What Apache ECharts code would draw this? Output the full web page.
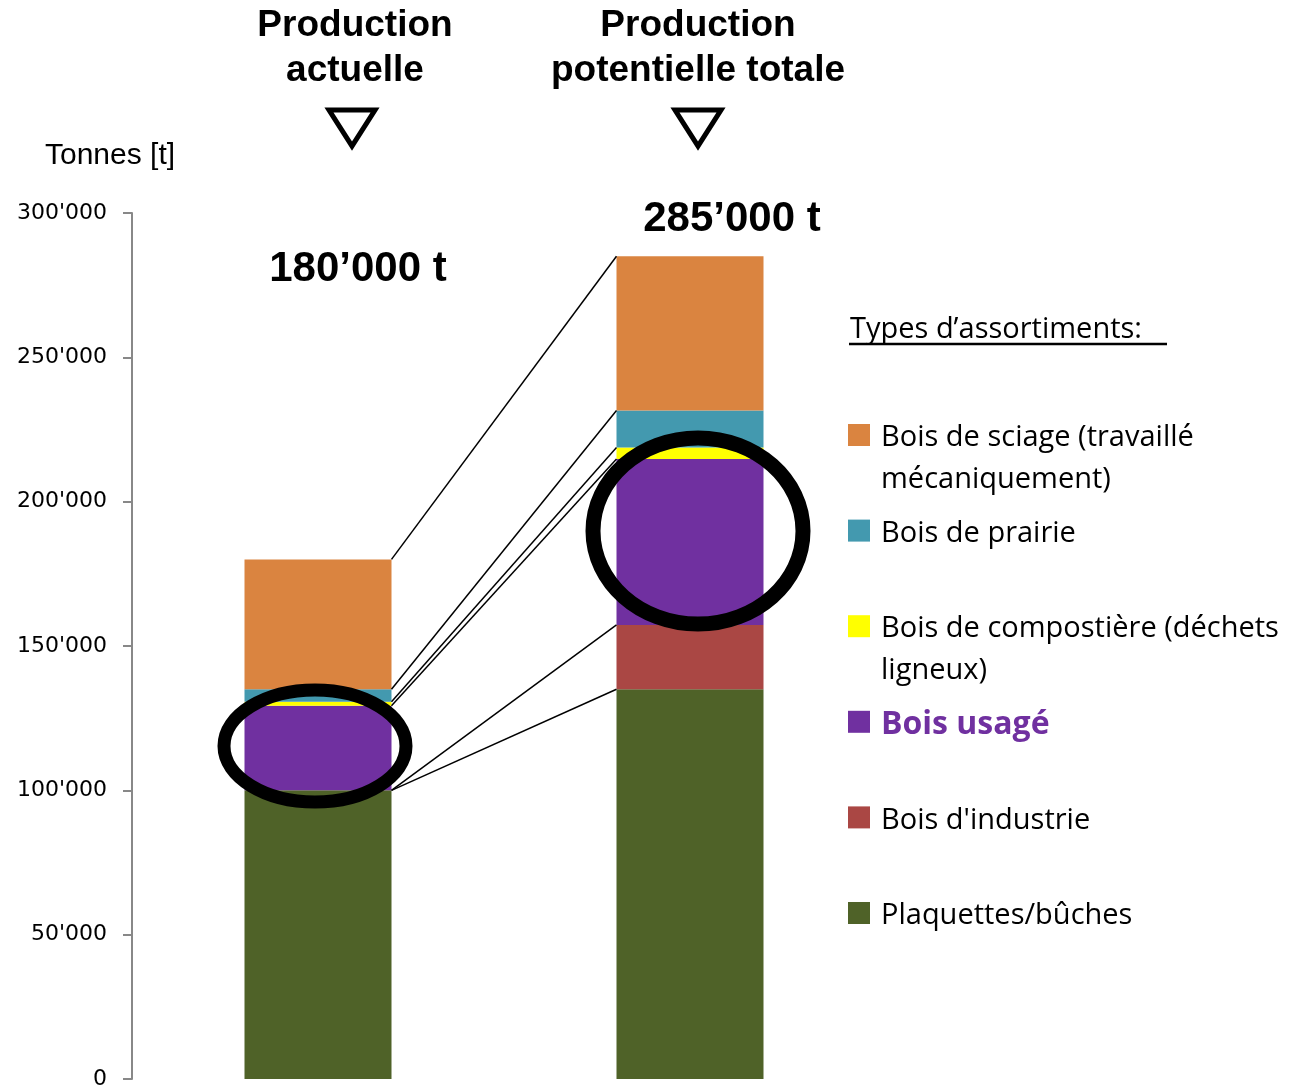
<!DOCTYPE html>
<html>
<head>
<meta charset="utf-8">
<title>Production de bois</title>
<script src="https://cdn.jsdelivr.net/npm/echarts@6.0.0/dist/echarts.min.js"></script>
</head>
<body style="margin:0;height:100%">
<div id="container" style="width:1313px;height:1088px"></div>
<script>
// donnees (tonnes), de bas en haut de la pile
var categories = ['Production actuelle', 'Production potentielle totale'];
var plaquettes = [100000, 135000];
var industrie = [0, 22300];
var usage = [29300, 57500];
var compost = [1400, 4000];
var prairie = [4300, 12800];
var sciage = [45000, 53400];
var totalLabels = ['180’000 t', '285’000 t'];

var seriesNames = ['Plaquettes/bûches', "Bois d'industrie", 'Bois usagé',
  'Bois de compostière (déchets ligneux)', 'Bois de prairie', 'Bois de sciage (travaillé mécaniquement)'];
var legendLabels = ['Plaquettes/bûches', "Bois d'industrie", 'Bois usagé',
  'Bois de compostière (déchets\nligneux)', 'Bois de prairie', 'Bois de sciage (travaillé\nmécaniquement)'];
var colors = ['#4F6228', '#AA4744', '#7030A0', '#FFFF00', '#4399AF', '#DA8440'];

var stacks = [plaquettes, industrie, usage, compost, prairie, sciage];
var barWidth = 147;

// sommes cumulees pour les traits de liaison
var connectors = [];
var cumA = 0, cumB = 0;
stacks.forEach(function (s) {
  cumA += s[0]; cumB += s[1];
  connectors.push([0, cumA, cumB]);
});

function fmt(v) {
  return String(v).replace(/\B(?=(\d{3})+(?!\d))/g, "'");
}

var dom = document.getElementById('container');
var myChart = echarts.init(dom);

var series = stacks.map(function (s, i) {
  return {
    name: seriesNames[i],
    type: 'bar',
    stack: 'total',
    barWidth: barWidth,
    itemStyle: { color: colors[i] },
    data: s
  };
});
series.push({
  type: 'custom',
  encode: { x: 0, y: [1, 2] },
  renderItem: function (params, api) {
    var a = api.coord([0, api.value(1)]);
    var b = api.coord([1, api.value(2)]);
    return {
      type: 'line',
      shape: { x1: a[0] + barWidth / 2, y1: a[1], x2: b[0] - barWidth / 2, y2: b[1] },
      style: { stroke: '#000', lineWidth: 1.5 }
    };
  },
  data: connectors,
  z: 3
});

// legende dessinee a la main (espacement regulier, texte sur 2 lignes)
var legend = [];
legend.push({ type: 'text', x: 850, y: 330,
  style: { text: 'Types d’assortiments: ', font: '29px "Open Sans"', fill: '#000', verticalAlign: 'middle' } });
legend.push({ type: 'line', shape: { x1: 849, y1: 344, x2: 1167, y2: 344 },
  style: { stroke: '#000', lineWidth: 2.5 } });
for (var k = 0; k < 6; k++) {
  var idx = 5 - k;
  var yc = 435 + k * 95.6;
  var isUsage = idx === 2;
  legend.push({ type: 'rect', shape: { x: 848, y: yc - 11, width: 22, height: 22 },
    style: { fill: colors[idx] } });
  legend.push({ type: 'text', x: 881, y: yc - 18,
    style: { text: legendLabels[idx],
      font: (isUsage ? 'bold 32px' : '29px') + ' "Open Sans"',
      fill: isUsage ? '#7030A0' : '#000', lineHeight: 42 } });
}

var option = {
  animation: false,
  grid: { left: 132, right: 437, top: 213, bottom: 9, outerBoundsMode: 'none' },
  xAxis: { type: 'category', data: categories, show: false },
  yAxis: {
    type: 'value', min: 0, max: 300000, interval: 50000,
    axisLine: { show: true, lineStyle: { color: '#888', width: 2 } },
    axisTick: { show: true, length: 9, lineStyle: { color: '#888', width: 2 } },
    splitLine: { show: false },
    axisLabel: { formatter: fmt, margin: 25, fontSize: 22, color: '#000', fontFamily: 'DejaVu Sans' }
  },
  series: series,
  graphic: [
    { type: 'text', x: 45, y: 156, style: { text: 'Tonnes [t]', font: '30px "Liberation Sans"', fill: '#000', verticalAlign: 'middle' } },
    { type: 'text', x: 355, y: 26, style: { text: 'Production', font: 'bold 37px "Liberation Sans"', fill: '#000', align: 'center', verticalAlign: 'middle' } },
    { type: 'text', x: 355, y: 71, style: { text: 'actuelle', font: 'bold 37px "Liberation Sans"', fill: '#000', align: 'center', verticalAlign: 'middle' } },
    { type: 'text', x: 698, y: 26, style: { text: 'Production', font: 'bold 37px "Liberation Sans"', fill: '#000', align: 'center', verticalAlign: 'middle' } },
    { type: 'text', x: 698, y: 71, style: { text: 'potentielle totale', font: 'bold 37px "Liberation Sans"', fill: '#000', align: 'center', verticalAlign: 'middle' } },
    { type: 'polygon', shape: { points: [[329, 110], [375, 110], [352, 146]] }, style: { fill: 'none', stroke: '#000', lineWidth: 5 } },
    { type: 'polygon', shape: { points: [[675, 110], [721, 110], [698, 146]] }, style: { fill: 'none', stroke: '#000', lineWidth: 5 } },
    { type: 'text', x: 358, y: 269, style: { text: totalLabels[0], font: 'bold 42px "Liberation Sans"', fill: '#000', align: 'center', verticalAlign: 'middle' } },
    { type: 'text', x: 732, y: 219, style: { text: totalLabels[1], font: 'bold 42px "Liberation Sans"', fill: '#000', align: 'center', verticalAlign: 'middle' } },
    { type: 'ellipse', z: 100, shape: { cx: 315, cy: 746, rx: 91, ry: 56 }, style: { fill: 'none', stroke: '#000', lineWidth: 13 } },
    { type: 'ellipse', z: 100, shape: { cx: 698, cy: 531, rx: 105, ry: 93 }, style: { fill: 'none', stroke: '#000', lineWidth: 15 } }
  ].concat(legend)
};

myChart.setOption(option);
</script>
</body>
</html>
